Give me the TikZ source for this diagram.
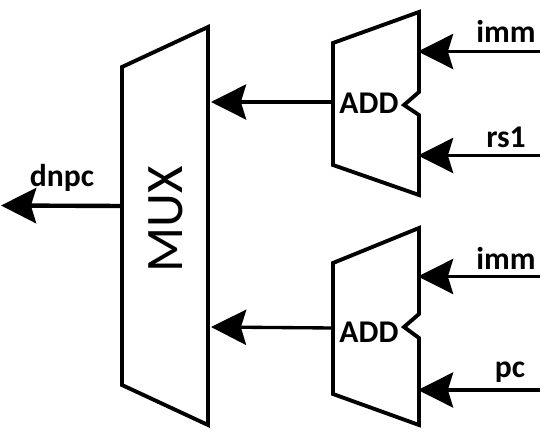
\documentclass[tikz,border=0pt]{standalone}
\usepackage{fontspec}
\setmainfont{Carlito}
\usetikzlibrary{arrows.meta}

\tikzset{
  unit/.style={draw=black, line width=2.2pt, line join=miter},
  wire/.style={black, line width=1.9pt, -{Stealth[length=20pt, width=20pt, inset=3pt]}},
  lbl/.style={inner sep=0pt, font=\fontsize{18}{18}\selectfont\bfseries},
}

\begin{document}
\begin{tikzpicture} [x=.02cm, y=-.02cm]
\useasboundingbox (0,0) rectangle (548,435);

% mux and the two adders
\draw[unit] (122,67)--(208,27)--(208,425)--(122,385)--cycle;
\draw[unit] (333,43)--(419,12)--(419,92)--(404,105)--(419,115)--(419,195)--(333,165)--cycle;
\draw[unit] (333,263)--(419,228)--(419,314)--(404,327)--(419,338)--(419,425)--(333,394)--cycle;

\node[inner sep=0pt, rotate=90, font=\fontsize{30}{30}\selectfont] (mux) at (166,219) {MUX};
\node[lbl] (addA) at (369,103) {ADD};
\node[lbl] (addB) at (369,332) {ADD};

% free ends
\coordinate (muxin) at (122,206);
\coordinate (dnpcend) at (1,205.5);
\coordinate (muxA) at (211,102);
\coordinate (muxB) at (211,327);
\coordinate (addAout) at (333,102);
\coordinate (addBout) at (333,328);
\coordinate (immA) at (540,51.5);
\coordinate (rsone) at (540,155.5);
\coordinate (immB) at (540,276.5);
\coordinate (pcin) at (540,390);
\coordinate (immAtip) at (418,51.5);
\coordinate (rsonetip) at (418,155.5);
\coordinate (immBtip) at (418,276.5);
\coordinate (pcintip) at (418,390);

\draw[wire, line width=2.5pt] (muxin)--(dnpcend);
\draw[wire] (addAout)--(muxA);
\draw[wire] (addBout)--(muxB);
\draw[wire] (immA)--(immAtip);
\draw[wire] (rsone)--(rsonetip);
\draw[wire] (immB)--(immBtip);
\draw[wire] (pcin)--(pcintip);

\node[lbl] (dnpc) at (62,178) {dnpc};
\node[lbl] (immAl) at (506,31) {imm};
\node[lbl] (rsl) at (506,137) {rs1};
\node[lbl] (immBl) at (506,258) {imm};
\node[lbl] (pcl) at (510,372) {pc};

\end{tikzpicture}
\end{document}
